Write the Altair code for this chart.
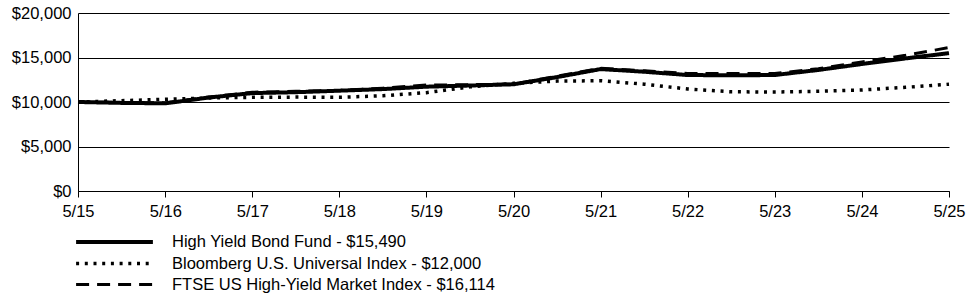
import altair as alt
import pandas as pd

periods = ["2015-05-31", "2015-11-30", "2016-05-31", "2016-11-30", "2017-05-31",
           "2017-11-30", "2018-05-31", "2018-11-30", "2019-05-31", "2019-11-30",
           "2020-05-31", "2020-11-30", "2021-05-31", "2021-11-30", "2022-05-31",
           "2022-11-30", "2023-05-31", "2023-11-30", "2024-05-31", "2024-11-30",
           "2025-05-31"]

series_names = ["High Yield Bond Fund - $15,490",
                "Bloomberg U.S. Universal Index - $12,000",
                "FTSE US High-Yield Market Index - $16,114"]

fund = [10000, 9900, 9850, 10500, 11000, 11100, 11270, 11450, 11720, 11850,
        11990, 12800, 13700, 13400, 13030, 13000, 13030, 13600, 14270, 14900, 15490]
bloomberg = [10000, 10150, 10300, 10450, 10530, 10550, 10530, 10700, 11050, 11700,
             12100, 12350, 12390, 12000, 11460, 11150, 11120, 11200, 11350, 11650, 12000]
ftse = [10000, 9950, 9900, 10550, 11100, 11200, 11300, 11550, 11900, 11950,
        12000, 12900, 13800, 13500, 13200, 13200, 13200, 13750, 14500, 15250, 16114]

tick_dates = ["2015-05-31", "2016-05-31", "2017-05-31", "2018-05-31", "2019-05-31",
              "2020-05-31", "2021-05-31", "2022-05-31", "2023-05-31", "2024-05-31",
              "2025-05-31"]

rows = []
for name, vals, order in zip(series_names, [fund, bloomberg, ftse], [0, 1, 2]):
    for d, v in zip(periods, vals):
        rows.append({"date": d, "value": v, "series": name, "order": order})
df = pd.DataFrame(rows)

FONT = "Liberation Sans"
FS = 16.5

tick_values = [alt.DateTime(year=int(d[:4]), month=int(d[5:7]), date=int(d[8:10]), utc=True)
               for d in tick_dates]

chart = alt.Chart(df).mark_line(strokeJoin="round").encode(
    x=alt.X("date:T",
            scale=alt.Scale(domain=["2015-05-31", "2025-05-31"], type="utc"),
            axis=alt.Axis(values=tick_values,
                          labelExpr="utcFormat(datum.value, '%-m/%y')",
                          title=None, grid=False, tickSize=6, labelPadding=6,
                          labelFlush=False)),
    y=alt.Y("value:Q", scale=alt.Scale(domain=[0, 20000], nice=False),
            axis=alt.Axis(values=[0, 5000, 10000, 15000, 20000], format="$,.0f",
                          title=None, ticks=False, labelPadding=7)),
    color=alt.Color("series:N", sort=series_names,
                    scale=alt.Scale(domain=series_names, range=["#000000"] * 3),
                    legend=alt.Legend(title=None, orient="none", legendX=26.5, legendY=219,
                                      symbolType="M-4.8,0H4.8", symbolSize=256,
                                      labelOffset=47.5, rowPadding=2.5, labelLimit=0)),
    strokeDash=alt.StrokeDash("series:N", sort=series_names,
                              scale=alt.Scale(domain=series_names,
                                              range=[[1, 0], [3, 5.7], [13, 8]])),
    strokeWidth=alt.StrokeWidth("series:N", sort=series_names,
                                scale=alt.Scale(domain=series_names, range=[4, 3, 2])),
    order=alt.Order("order:Q"),
).properties(
    width=871, height=178,
    autosize=alt.AutoSizeParams(type="none"),
    padding={"left": 78, "top": 13, "right": 26, "bottom": 113},
).configure_view(stroke=None).configure_axis(
    labelFont=FONT, labelFontSize=FS, labelColor="#000",
    domainColor="#000", tickColor="#000", gridColor="#000", gridOpacity=1,
).configure_axisY(domain=True, grid=True, gridWidth=1).configure_legend(
    labelFont=FONT, labelFontSize=FS, labelColor="#000", symbolStrokeColor="#000",
)

chart.save("out.html", embed_options={"renderer": "svg", "actions": False})
